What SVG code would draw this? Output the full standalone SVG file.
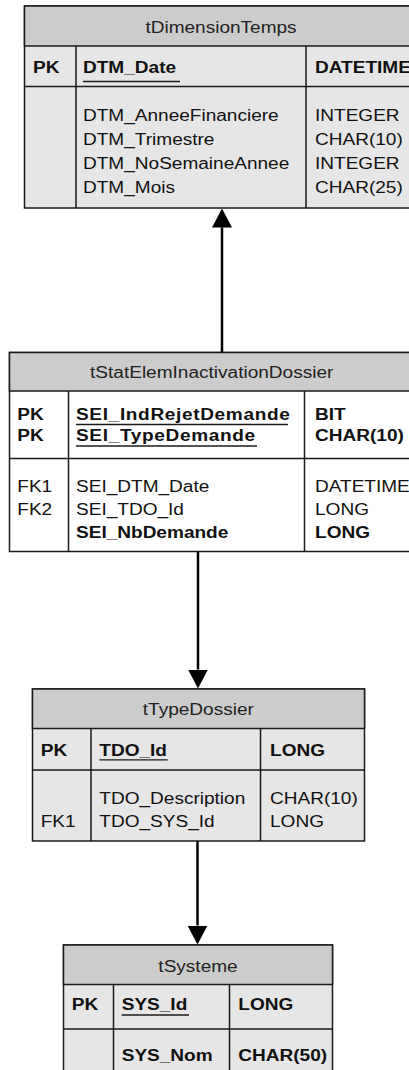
<svg xmlns="http://www.w3.org/2000/svg" width="409" height="1070" viewBox="0 0 409 1070">
  <style>
    .box { stroke: #1a1a1a; stroke-width: 1.5; }
    .head { fill: #cccccc; }
    .body { fill: #e6e6e6; }
    .white { fill: #ffffff; }
    .rule { stroke: #1a1a1a; stroke-width: 1.5; fill: none; }
    .ul { stroke: #1a1a1a; stroke-width: 1.3; }
    text { font-family: "Liberation Sans", Arial, sans-serif; font-size: 16px; fill: #111111; }
    .title { text-anchor: middle; fill: #222222; }
    .b { font-weight: bold; }
    .sp { letter-spacing: 0.55px; }
    .wire { stroke: #000000; stroke-width: 2.5; fill: none; marker-end: url(#arrow); }
  </style>
  <defs>
    <marker id="arrow" viewBox="0 0 19 20" refX="0" refY="10" markerWidth="19" markerHeight="20" markerUnits="userSpaceOnUse" orient="auto">
      <path d="M0,0 L19,10 L0,20 Z" fill="#000000"/>
    </marker>
  </defs>

  <!-- tDimensionTemps -->
  <g id="tDimensionTemps">
    <rect class="box body" x="24.5" y="6" width="393" height="202"/>
    <rect class="box head" x="24.5" y="6" width="393" height="40"/>
    <path class="rule" d="M24.5,86.5 H417.5 M76,46 V208 M306,46 V208"/>
    <text class="title" transform="matrix(1.19 0 0 1 221 32.5)">tDimensionTemps</text>
    <text class="b" transform="matrix(1.19 0 0 1 33 72.5)">PK</text>
    <text class="b" transform="matrix(1.19 0 0 1 83 72.5)">DTM_Date</text>
    <line class="ul" x1="83" y1="81.5" x2="180" y2="81.5"/>
    <text class="b" transform="matrix(1.19 0 0 1 315 72.5)">DATETIME</text>
    <text transform="matrix(1.19 0 0 1 83 120.5)">DTM_AnneeFinanciere</text>
    <text transform="matrix(1.19 0 0 1 83 144.8)">DTM_Trimestre</text>
    <text transform="matrix(1.19 0 0 1 83 169)">DTM_NoSemaineAnnee</text>
    <text transform="matrix(1.19 0 0 1 83 193.3)">DTM_Mois</text>
    <text transform="matrix(1.19 0 0 1 315 120.5)">INTEGER</text>
    <text transform="matrix(1.19 0 0 1 315 144.8)">CHAR(10)</text>
    <text transform="matrix(1.19 0 0 1 315 169)">INTEGER</text>
    <text transform="matrix(1.19 0 0 1 315 193.3)">CHAR(25)</text>
  </g>

  <!-- tStatElemInactivationDossier -->
  <g id="tStatElemInactivationDossier">
    <rect class="box white" x="9.5" y="352.5" width="405" height="199"/>
    <rect class="box head" x="9.5" y="352.5" width="405" height="38.5"/>
    <path class="rule" d="M9.5,458.5 H414.5 M68.5,391 V551.5 M304.5,391 V551.5"/>
    <text class="title" transform="matrix(1.19 0 0 1 211.7 377.5)">tStatElemInactivationDossier</text>
    <text class="b" transform="matrix(1.19 0 0 1 17.3 419.5)">PK</text>
    <text class="b" transform="matrix(1.19 0 0 1 17.3 440.5)">PK</text>
    <text class="b sp" transform="matrix(1.19 0 0 1 76 419.5)">SEI_IndRejetDemande</text>
    <line class="ul" x1="76" y1="424.5" x2="288" y2="424.5"/>
    <text class="b sp" transform="matrix(1.19 0 0 1 76 440.5)">SEI_TypeDemande</text>
    <line class="ul" x1="76" y1="446" x2="257" y2="446"/>
    <text class="b" transform="matrix(1.19 0 0 1 315 419.5)">BIT</text>
    <text class="b" transform="matrix(1.19 0 0 1 315 440.5)">CHAR(10)</text>
    <text transform="matrix(1.19 0 0 1 17.3 491.7)">FK1</text>
    <text transform="matrix(1.19 0 0 1 17.3 515)">FK2</text>
    <text transform="matrix(1.19 0 0 1 76 491.7)">SEI_DTM_Date</text>
    <text transform="matrix(1.19 0 0 1 76 515)">SEI_TDO_Id</text>
    <text class="b" transform="matrix(1.19 0 0 1 76 538.3)">SEI_NbDemande</text>
    <text transform="matrix(1.19 0 0 1 315 491.7)">DATETIME</text>
    <text transform="matrix(1.19 0 0 1 315 515)">LONG</text>
    <text class="b" transform="matrix(1.19 0 0 1 315 538.3)">LONG</text>
  </g>

  <!-- tTypeDossier -->
  <g id="tTypeDossier">
    <rect class="box body" x="32.5" y="689" width="332" height="152"/>
    <rect class="box head" x="32.5" y="689" width="332" height="39.5"/>
    <path class="rule" d="M32.5,770 H364.5 M91,728.5 V841 M260.5,728.5 V841"/>
    <text class="title" transform="matrix(1.19 0 0 1 198.3 715)">tTypeDossier</text>
    <text class="b" transform="matrix(1.19 0 0 1 40.7 756)">PK</text>
    <text class="b" transform="matrix(1.19 0 0 1 99.3 756)">TDO_Id</text>
    <line class="ul" x1="99.3" y1="759.8" x2="167.7" y2="759.8"/>
    <text class="b" transform="matrix(1.19 0 0 1 270 756)">LONG</text>
    <text transform="matrix(1.19 0 0 1 99.3 804)">TDO_Description</text>
    <text transform="matrix(1.19 0 0 1 40.7 826.7)">FK1</text>
    <text transform="matrix(1.19 0 0 1 99.3 826.7)">TDO_SYS_Id</text>
    <text transform="matrix(1.19 0 0 1 270 804)">CHAR(10)</text>
    <text transform="matrix(1.19 0 0 1 270 826.7)">LONG</text>
  </g>

  <!-- tSysteme -->
  <g id="tSysteme">
    <rect class="box body" x="63.5" y="945" width="269" height="135"/>
    <rect class="box head" x="63.5" y="945" width="269" height="39.5"/>
    <path class="rule" d="M63.5,1029 H332.5 M113.5,984.5 V1080 M229.5,984.5 V1080"/>
    <text class="title" transform="matrix(1.19 0 0 1 198 971.7)">tSysteme</text>
    <text class="b" transform="matrix(1.19 0 0 1 71.7 1010)">PK</text>
    <text class="b" transform="matrix(1.19 0 0 1 121.7 1010)">SYS_Id</text>
    <line class="ul" x1="121.7" y1="1015" x2="189" y2="1015"/>
    <text class="b" transform="matrix(1.19 0 0 1 238.3 1010)">LONG</text>
    <text class="b" transform="matrix(1.19 0 0 1 121.7 1061)">SYS_Nom</text>
    <text class="b" transform="matrix(1.19 0 0 1 238.3 1061)">CHAR(50)</text>
  </g>

  <!-- relationships -->
  <g id="connectors">
    <path class="wire" d="M222,352.5 V227.5"/>
    <path class="wire" d="M198,551.5 V669.5"/>
    <path class="wire" d="M197.5,841 V925.5"/>
  </g>
</svg>
